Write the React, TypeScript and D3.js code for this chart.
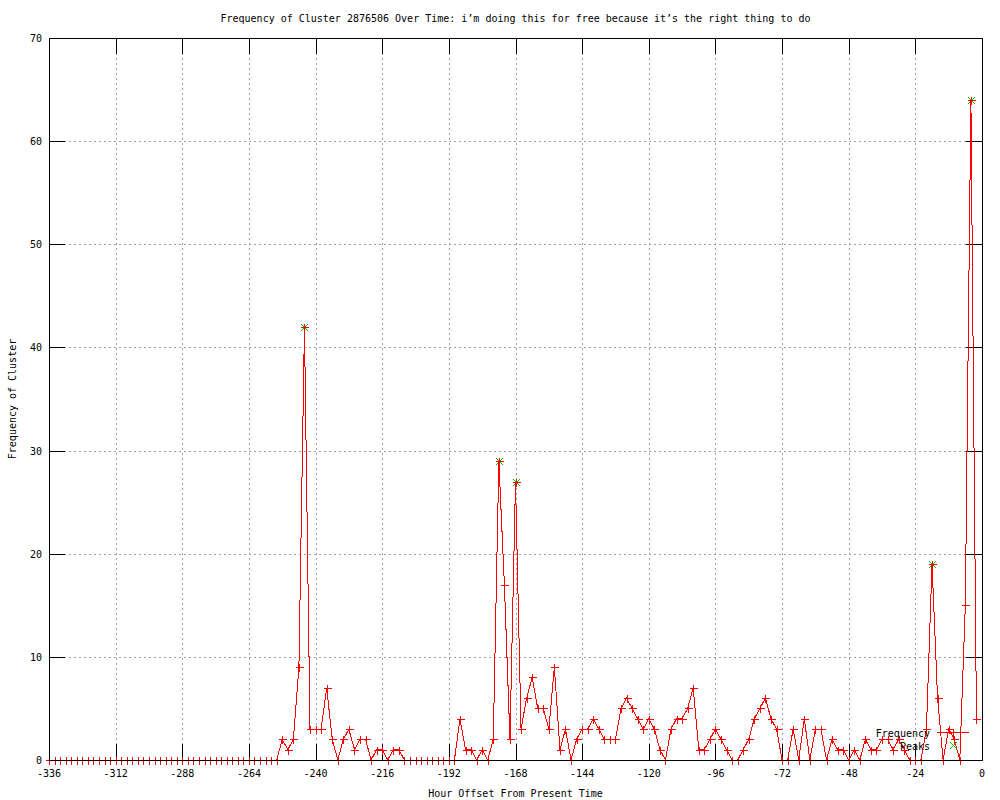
import * as d3 from "d3"
import React from "react"

// hour offsets, one sample every 2 hours, oldest first
const hours: number[] = d3.range(-336, 0, 2)

// cluster frequency at each hour offset
const frequency: number[] = [
    // -336 .. -254
    0, 0, 0, 0, 0, 0, 0, 0, 0, 0, 0, 0, 0, 0, 0, 0, 0, 0, 0, 0, 0,
    0, 0, 0, 0, 0, 0, 0, 0, 0, 0, 0, 0, 0, 0, 0, 0, 0, 0, 0, 0, 0,
    // -252 .. -210
    2, 1, 2, 9, 42, 3, 3, 3, 7, 2, 0, 2, 3, 1, 2, 2, 0, 1, 1, 0, 1, 1,
    // -208 .. -190
    0, 0, 0, 0, 0, 0, 0, 0, 0, 0,
    // -188 .. -142
    4, 1, 1, 0, 1, 0, 2, 29, 17, 2, 27, 3, 6, 8, 5, 5, 3, 9, 1, 3, 0, 2, 3, 3,
    // -140 .. -90
    4, 3, 2, 2, 2, 5, 6, 5, 4, 3, 4, 3, 1, 0, 3, 4, 4, 5, 7, 1, 1, 2, 3, 2, 1, 0,
    // -88 .. -46
    0, 1, 2, 4, 5, 6, 4, 3, 0, 0, 3, 0, 4, 0, 3, 3, 0, 2, 1, 1, 0, 1,
    // -44 .. -2
    0, 2, 1, 1, 2, 2, 1, 2, 1, 0, 0, 0, 3, 19, 6, 0, 3, 2, 0, 15, 64, 4,
]

const peakHours: number[] = [-244, -174, -168, -18, -4]
const peakValues: number[] = [42, 29, 27, 19, 64]

const xTicks: number[] = d3.range(-336, 1, 24)
const yTicks: number[] = d3.range(0, 71, 10)

const titleText = "Frequency of Cluster 2876506 Over Time: i\u2019m doing this for free because it\u2019s the right thing to do"

const App = () => {
    const width = 1000
    const height = 800
    const margins = { left: 49, right: 18, top: 38, bottom: 40 }
    const font = "'DejaVu Sans Mono', monospace"
    const red = "#ff0000"
    const green = "#00c000"
    const tickLen = 16

    const scaleX = d3.scaleLinear().domain([-336, 0]).range([margins.left, width - margins.right])
    const scaleY = d3.scaleLinear().domain([0, 70]).range([height - margins.bottom, margins.top])
    const [x0, x1] = scaleX.range()
    const [y0, y1] = scaleY.range()

    const points: [number, number][] = hours.map((h, i) => [h, frequency[i]])
    const line = d3.line<[number, number]>()
        .x(d => scaleX(d[0]))
        .y(d => scaleY(d[1]))

    // gnuplot style point markers
    const plus = (cx: number, cy: number, r = 4) => `M${cx - r},${cy}H${cx + r}M${cx},${cy - r}V${cy + r}`
    const cross = (cx: number, cy: number, r = 3.5) =>
        `M${cx - r},${cy - r}L${cx + r},${cy + r}M${cx - r},${cy + r}L${cx + r},${cy - r}`

    const legendX = 937
    const legendY = 732.5

    return (
        <svg width={width} height={height} style={{ position: "absolute", left: 0, top: 0, background: "#fff" }}
            fontFamily={font} fontSize={10}>
            {/* grid */}
            <g stroke="#a0a0a0" strokeDasharray="2,3" shapeRendering="crispEdges">
                {xTicks.slice(1, -1).map(t => (
                    <line key={"gx" + t} x1={Math.round(scaleX(t)) + 0.5} x2={Math.round(scaleX(t)) + 0.5} y1={y1} y2={y0} />
                ))}
                {yTicks.slice(1, -1).map(t => (
                    <line key={"gy" + t} x1={x0} x2={x1} y1={Math.round(scaleY(t)) + 0.5} y2={Math.round(scaleY(t)) + 0.5} />
                ))}
            </g>

            {/* ticks, mirrored on all sides */}
            <g stroke="#000" shapeRendering="crispEdges">
                {xTicks.map(t => {
                    const px = Math.round(scaleX(t)) + 0.5
                    return (
                        <g key={"tx" + t}>
                            <line x1={px} x2={px} y1={y0} y2={y0 - tickLen} />
                            <line x1={px} x2={px} y1={y1} y2={y1 + tickLen} />
                        </g>
                    )
                })}
                {yTicks.map(t => {
                    const py = Math.round(scaleY(t)) + 0.5
                    return (
                        <g key={"ty" + t}>
                            <line x1={x0} x2={x0 + tickLen} y1={py} y2={py} />
                            <line x1={x1} x2={x1 - tickLen} y1={py} y2={py} />
                        </g>
                    )
                })}
            </g>

            {/* tick labels */}
            <g fill="#000">
                {xTicks.map(t => (
                    <text key={"lx" + t} x={scaleX(t)} y={y0 + 17} textAnchor="middle">{t}</text>
                ))}
                {yTicks.map(t => (
                    <text key={"ly" + t} x={x0 - 7} y={scaleY(t) + 4} textAnchor="end">{t}</text>
                ))}
            </g>

            {/* peaks (under the frequency markers) */}
            <path d={peakHours.map((h, i) => cross(Math.round(scaleX(h)) + 0.5, Math.round(scaleY(peakValues[i])) + 0.5)).join("")}
                stroke={green} strokeWidth={1} fill="none" shapeRendering="crispEdges" />

            {/* frequency series */}
            <path d={line(points) ?? ""} fill="none" stroke={red} strokeWidth={1} shapeRendering="crispEdges" />
            <path d={points.map(p => plus(Math.round(scaleX(p[0])) + 0.5, Math.round(scaleY(p[1])) + 0.5)).join("")}
                stroke={red} strokeWidth={1} fill="none" shapeRendering="crispEdges" />

            {/* border */}
            <rect x={x0 + 0.5} y={y1 + 0.5} width={x1 - x0} height={y0 - y1} fill="none" stroke="#000" shapeRendering="crispEdges" />

            {/* legend */}
            <text x={legendX - 7} y={legendY + 4} textAnchor="end">Frequency</text>
            <line x1={legendX} x2={legendX + 32} y1={legendY} y2={legendY} stroke={red} shapeRendering="crispEdges" />
            <path d={plus(legendX + 16.5, legendY)} stroke={red} shapeRendering="crispEdges" />
            <text x={legendX - 7} y={legendY + 17} textAnchor="end">Peaks</text>
            <path d={cross(legendX + 16.5, legendY + 13)} stroke={green} shapeRendering="crispEdges" />

            {/* titles */}
            <text x={(x0 + x1) / 2} y={22} textAnchor="middle">{titleText}</text>
            <text x={(x0 + x1) / 2} y={797} textAnchor="middle">Hour Offset From Present Time</text>
            <text transform={`translate(16, ${(y0 + y1) / 2}) rotate(-90)`} textAnchor="middle">Frequency of Cluster</text>
        </svg>
    )
}

export default App
